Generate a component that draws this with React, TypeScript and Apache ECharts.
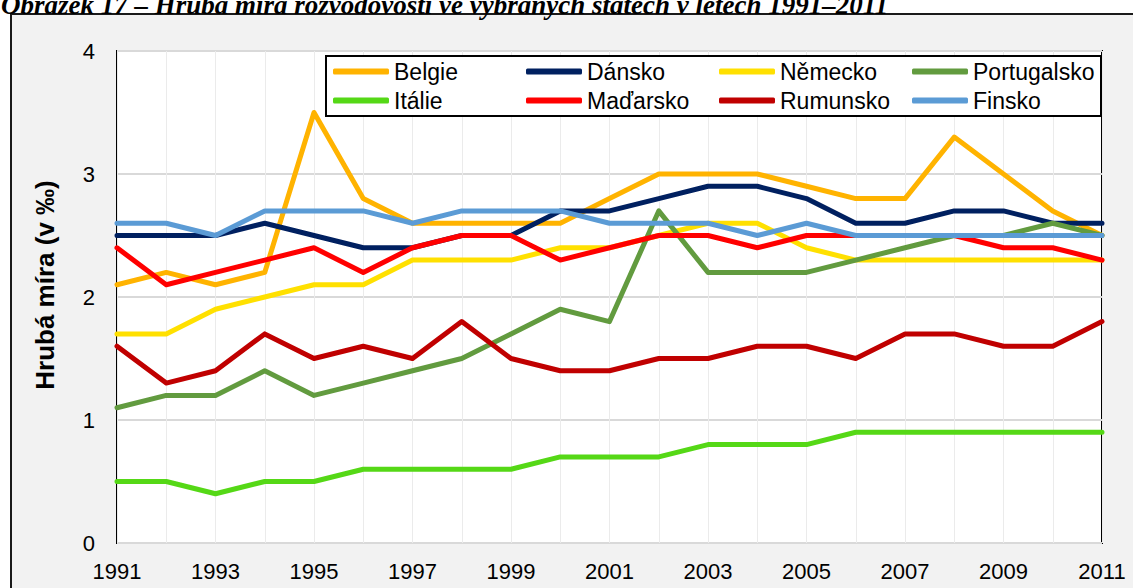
import React, { useEffect, useRef } from "react";
import * as echarts from "echarts";

const years = ["1991","1992","1993","1994","1995","1996","1997","1998","1999","2000","2001","2002","2003","2004","2005","2006","2007","2008","2009","2010","2011"];

const belgie =      [2.1, 2.2, 2.1, 2.2, 3.5, 2.8, 2.6, 2.6, 2.6, 2.6, 2.8, 3.0, 3.0, 3.0, 2.9, 2.8, 2.8, 3.3, 3.0, 2.7, 2.5];
const dansko =      [2.5, 2.5, 2.5, 2.6, 2.5, 2.4, 2.4, 2.5, 2.5, 2.7, 2.7, 2.8, 2.9, 2.9, 2.8, 2.6, 2.6, 2.7, 2.7, 2.6, 2.6];
const nemecko =     [1.7, 1.7, 1.9, 2.0, 2.1, 2.1, 2.3, 2.3, 2.3, 2.4, 2.4, 2.5, 2.6, 2.6, 2.4, 2.3, 2.3, 2.3, 2.3, 2.3, 2.3];
const portugalsko = [1.1, 1.2, 1.2, 1.4, 1.2, 1.3, 1.4, 1.5, 1.7, 1.9, 1.8, 2.7, 2.2, 2.2, 2.2, 2.3, 2.4, 2.5, 2.5, 2.6, 2.5];
const italie =      [0.5, 0.5, 0.4, 0.5, 0.5, 0.6, 0.6, 0.6, 0.6, 0.7, 0.7, 0.7, 0.8, 0.8, 0.8, 0.9, 0.9, 0.9, 0.9, 0.9, 0.9];
const madarsko =    [2.4, 2.1, 2.2, 2.3, 2.4, 2.2, 2.4, 2.5, 2.5, 2.3, 2.4, 2.5, 2.5, 2.4, 2.5, 2.5, 2.5, 2.5, 2.4, 2.4, 2.3];
const rumunsko =    [1.6, 1.3, 1.4, 1.7, 1.5, 1.6, 1.5, 1.8, 1.5, 1.4, 1.4, 1.5, 1.5, 1.6, 1.6, 1.5, 1.7, 1.7, 1.6, 1.6, 1.8];
const finsko =      [2.6, 2.6, 2.5, 2.7, 2.7, 2.7, 2.6, 2.7, 2.7, 2.7, 2.6, 2.6, 2.6, 2.5, 2.6, 2.5, 2.5, 2.5, 2.5, 2.5, 2.5];

const seriesNames = ["Belgie", "Dánsko", "Německo", "Portugalsko", "Itálie", "Maďarsko", "Rumunsko", "Finsko"];
const seriesData = [belgie, dansko, nemecko, portugalsko, italie, madarsko, rumunsko, finsko];
const seriesColors = ["#FFB300", "#002060", "#FFE000", "#629B3F", "#55D816", "#FF0000", "#C00000", "#5B9BD5"];

const title = "Obrázek 17 – Hrubá míra rozvodovosti ve vybraných státech v letech 1991–2011";
const yAxisTitle = "Hrubá míra (v ‰)";

export default function App() {
  const ref = useRef<HTMLDivElement>(null);
  useEffect(() => {
    if (!ref.current) return;
    const chart = echarts.init(ref.current, undefined, { renderer: "svg" });
    chart.setOption({
      animation: false,
      textStyle: { fontFamily: "Arial, 'Liberation Sans', sans-serif" },
      grid: {
        left: 117,
        right: 31,
        top: 51,
        bottom: 45,
        show: true,
        backgroundColor: "#ffffff",
        borderColor: "#000000",
        borderWidth: 2,
        containLabel: false,
      },
      legend: {
        left: 326,
        top: 56,
        width: 770,
        padding: [4, 2, 4, 7],
        itemGap: 6,
        itemWidth: 56,
        itemHeight: 6,
        icon: "roundRect",
        backgroundColor: "#ffffff",
        borderColor: "#000000",
        borderWidth: 2,
        textStyle: { fontSize: 23, color: "#000", width: 126, lineHeight: 19, padding: [0, 0, 0, 0] },
        data: seriesNames,
      },
      graphic: [
        {
          type: "text",
          x: 1,
          y: -9,
          style: {
            text: title,
            font: "italic bold 27px 'Liberation Serif', 'Times New Roman', serif",
            fill: "#000",
            verticalAlign: "top",
          },
          silent: true,
        },
        {
          type: "text",
          x: 45,
          y: 285,
          rotation: Math.PI / 2,
          style: {
            text: yAxisTitle,
            font: "bold 26px Arial, 'Liberation Sans', sans-serif",
            fill: "#000",
            align: "center",
            verticalAlign: "middle",
          },
          silent: true,
        },
      ],
      xAxis: {
        type: "category",
        data: years,
        boundaryGap: false,
        axisLine: { show: false },
        axisTick: { show: false },
        axisLabel: { interval: 1, fontSize: 22, color: "#000", margin: 17 },
        splitLine: { show: true, interval: 0, lineStyle: { color: "#ebebeb", width: 1 } },
      },
      yAxis: {
        type: "value",
        min: 0,
        max: 4,
        interval: 1,
        axisLine: { show: false },
        axisTick: { show: false },
        axisLabel: { fontSize: 22, color: "#000", margin: 22 },
        splitLine: { show: true, lineStyle: { color: "#d9d9d9", width: 2 } },
      },
      series: seriesNames.map((name, i) => ({
        name,
        type: "line",
        data: seriesData[i],
        symbol: "none",
        color: seriesColors[i],
        lineStyle: { width: 5, color: seriesColors[i], cap: "round", join: "round" },
      })),
    });
    return () => chart.dispose();
  }, []);
  return (
    <div style={{ position: "absolute", left: 0, top: 0, width: 1133, height: 588, background: "#ffffff", overflow: "hidden" }}>
      <div style={{ position: "absolute", left: 10, top: 13, width: 1140, height: 600, background: "#f2f2f2", border: "2px solid #1a1a1a" }} />
      <div ref={ref} style={{ position: "absolute", left: 0, top: 0, width: 1133, height: 588 }} />
    </div>
  );
}
